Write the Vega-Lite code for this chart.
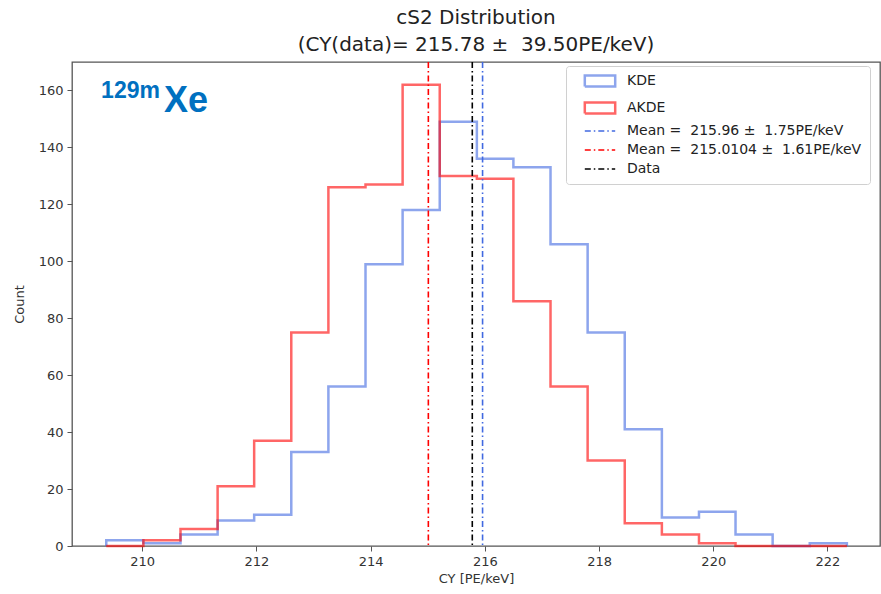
{
  "$schema": "https://vega.github.io/schema/vega-lite/v6.json",
  "width": 808,
  "height": 484,
  "autosize": {"type": "none"},
  "padding": {"left": 72, "top": 62, "right": 1, "bottom": 48},
  "background": "white",
  "title": {
    "text": ["cS2 Distribution", "(CY(data)= 215.78 ± \u00a039.50PE/keV)"],
    "font": "DejaVu Sans",
    "fontSize": 20,
    "fontWeight": "normal",
    "color": "#222",
    "lineHeight": 27,
    "offset": 6,
    "anchor": "middle"
  },
  "config": {
    "view": {"stroke": "#555", "strokeWidth": 1.3},
    "axis": {
      "grid": false,
      "domain": false,
      "tickColor": "#555",
      "tickSize": 5,
      "labelFont": "DejaVu Sans",
      "labelFontSize": 13,
      "labelColor": "#333",
      "titleFont": "DejaVu Sans",
      "titleFontSize": 13,
      "titleFontWeight": "normal",
      "titleColor": "#333"
    }
  },
  "datasets": {
    "hist": [
      {"series": "KDE", "edge": 209.37, "count": 0},
      {"series": "KDE", "edge": 209.37, "count": 2},
      {"series": "KDE", "edge": 210.02, "count": 1},
      {"series": "KDE", "edge": 210.67, "count": 4},
      {"series": "KDE", "edge": 211.32, "count": 9},
      {"series": "KDE", "edge": 211.96, "count": 11},
      {"series": "KDE", "edge": 212.61, "count": 33},
      {"series": "KDE", "edge": 213.26, "count": 56},
      {"series": "KDE", "edge": 213.91, "count": 99},
      {"series": "KDE", "edge": 214.56, "count": 118},
      {"series": "KDE", "edge": 215.21, "count": 149},
      {"series": "KDE", "edge": 215.86, "count": 136},
      {"series": "KDE", "edge": 216.50, "count": 133},
      {"series": "KDE", "edge": 217.15, "count": 106},
      {"series": "KDE", "edge": 217.80, "count": 75},
      {"series": "KDE", "edge": 218.45, "count": 41},
      {"series": "KDE", "edge": 219.10, "count": 10},
      {"series": "KDE", "edge": 219.75, "count": 12},
      {"series": "KDE", "edge": 220.39, "count": 4},
      {"series": "KDE", "edge": 221.04, "count": 0},
      {"series": "KDE", "edge": 221.69, "count": 1},
      {"series": "KDE", "edge": 222.34, "count": 1},
      {"series": "KDE", "edge": 222.34, "count": 0},
      {"series": "AKDE", "edge": 209.37, "count": 0},
      {"series": "AKDE", "edge": 209.37, "count": 0},
      {"series": "AKDE", "edge": 210.02, "count": 2},
      {"series": "AKDE", "edge": 210.67, "count": 6},
      {"series": "AKDE", "edge": 211.32, "count": 21},
      {"series": "AKDE", "edge": 211.96, "count": 37},
      {"series": "AKDE", "edge": 212.61, "count": 75},
      {"series": "AKDE", "edge": 213.26, "count": 126},
      {"series": "AKDE", "edge": 213.91, "count": 127},
      {"series": "AKDE", "edge": 214.56, "count": 162},
      {"series": "AKDE", "edge": 215.21, "count": 130},
      {"series": "AKDE", "edge": 215.86, "count": 129},
      {"series": "AKDE", "edge": 216.50, "count": 86},
      {"series": "AKDE", "edge": 217.15, "count": 56},
      {"series": "AKDE", "edge": 217.80, "count": 30},
      {"series": "AKDE", "edge": 218.45, "count": 8},
      {"series": "AKDE", "edge": 219.10, "count": 4},
      {"series": "AKDE", "edge": 219.75, "count": 1},
      {"series": "AKDE", "edge": 220.39, "count": 0},
      {"series": "AKDE", "edge": 221.04, "count": 0},
      {"series": "AKDE", "edge": 221.69, "count": 0},
      {"series": "AKDE", "edge": 222.34, "count": 0},
      {"series": "AKDE", "edge": 222.34, "count": 0}
    ],
    "means": [
      {"series": "Mean = \u00a0215.96 ± \u00a01.75PE/keV", "value": 215.96},
      {"series": "Mean = \u00a0215.0104 ± \u00a01.61PE/keV", "value": 215.0104},
      {"series": "Data", "value": 215.78}
    ]
  },
  "layer": [
    {
      "data": {"name": "hist"},
      "mark": {"type": "line", "interpolate": "step-after", "strokeWidth": 2.5},
      "encoding": {
        "x": {
          "field": "edge", "type": "quantitative",
          "scale": {"domain": [208.77, 222.92], "nice": false, "zero": false},
          "axis": {"values": [210, 212, 214, 216, 218, 220, 222], "format": "d", "title": "CY [PE/keV]", "titlePadding": 4, "labelPadding": 4}
        },
        "y": {
          "field": "count", "type": "quantitative",
          "scale": {"domain": [0, 170], "nice": false},
          "axis": {"values": [0, 20, 40, 60, 80, 100, 120, 140, 160], "title": "Count", "titlePadding": 12, "labelPadding": 4}
        },
        "color": {
          "field": "series", "type": "nominal",
          "scale": {
            "domain": ["KDE", "AKDE", "Mean = \u00a0215.96 ± \u00a01.75PE/keV", "Mean = \u00a0215.0104 ± \u00a01.61PE/keV", "Data"],
            "range": ["rgba(65,105,225,0.6)", "rgba(255,0,0,0.6)", "#4169E1", "#FF0000", "#000000"]
          },
          "legend": {
            "title": null,
            "orient": "none",
            "legendX": 494,
            "legendY": 4,
            "padding": 8,
            "fillColor": "white",
            "strokeColor": "#d0d0d0",
            "cornerRadius": 3,
            "labelFont": "DejaVu Sans",
            "labelFontSize": 14,
            "labelColor": "#222",
            "labelLimit": 400,
            "labelOffset": 20,
            "symbolOffset": 19,
            "rowPadding": 5,
            "symbolSize": 256,
            "symbolStrokeWidth": 2,
            "encode": {
              "symbols": {
                "update": {
                  "shape": {"signal": "datum.value == 'KDE' || datum.value == 'AKDE' ? 'M-1.9,-0.7H1.9V0.7H-1.9Z' : 'M-1.9,0H1.9'"},
                  "fill": {"value": "transparent"},
                  "strokeDash": {"signal": "datum.value == 'KDE' || datum.value == 'AKDE' ? [1,0] : [6,3,1.5,3]"},
                  "strokeWidth": {"signal": "datum.value == 'KDE' || datum.value == 'AKDE' ? 2.5 : 1.6"}
                }
              }
            }
          }
        },
        "detail": {"field": "series"}
      }
    },
    {
      "data": {"name": "means"},
      "mark": {"type": "rule", "strokeWidth": 1.6, "strokeDash": [6, 3, 1.5, 3]},
      "encoding": {
        "x": {"field": "value", "type": "quantitative"},
        "color": {"field": "series", "type": "nominal"}
      }
    },
    {
      "data": {"values": [{}]},
      "mark": {"type": "text", "text": "129m", "font": "Liberation Sans", "fontWeight": "bold", "fontSize": 23, "color": "#0070C0", "align": "left", "baseline": "alphabetic"},
      "encoding": {
        "x": {"datum": 209.28, "type": "quantitative"},
        "y": {"datum": 157.5, "type": "quantitative"}
      }
    },
    {
      "data": {"values": [{}]},
      "mark": {"type": "text", "text": "Xe", "font": "Liberation Sans", "fontWeight": "bold", "fontSize": 36, "color": "#0070C0", "align": "left", "baseline": "alphabetic"},
      "encoding": {
        "x": {"datum": 210.38, "type": "quantitative"},
        "y": {"datum": 152.6, "type": "quantitative"}
      }
    }
  ]
}
